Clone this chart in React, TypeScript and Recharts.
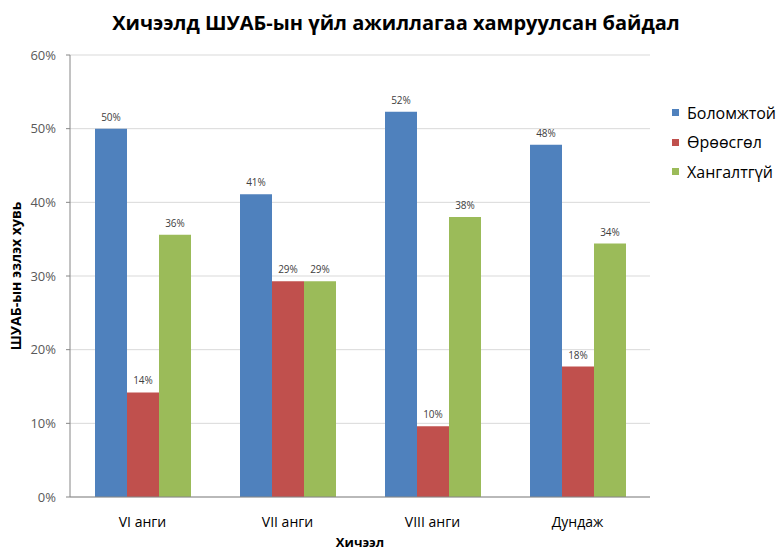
import { BarChart, Bar, XAxis, YAxis, CartesianGrid, Legend, LabelList } from 'recharts';

const FONT = '"Open Sans", "Noto Sans", sans-serif';

const CATEGORIES = ['VI анги', 'VII анги', 'VIII анги', 'Дундаж'];
const BOLOMZHTOI = [0.5, 0.411, 0.523, 0.478];
const OROOSGOL = [0.142, 0.293, 0.096, 0.177];
const KHANGALTGUI = [0.356, 0.293, 0.38, 0.344];
const Y_TICKS = [0, 0.1, 0.2, 0.3, 0.4, 0.5, 0.6];

const SERIES = [
  { key: 'bolomzhtoi', name: 'Боломжтой', color: '#4F81BD' },
  { key: 'oroosgol', name: 'Өрөөсгөл', color: '#C0504D' },
  { key: 'khangaltgui', name: 'Хангалтгүй', color: '#9BBB59' },
];

const data = CATEGORIES.map((name, i) => ({
  name,
  bolomzhtoi: BOLOMZHTOI[i],
  oroosgol: OROOSGOL[i],
  khangaltgui: KHANGALTGUI[i],
}));

const pct = (v: any) => `${Math.round(Number(v) * 100)}%`;

function LegendBox() {
  return (
    <div style={{ fontFamily: FONT, fontSize: 16, color: '#000' }}>
      {SERIES.map(s => (
        <div key={s.key} style={{ display: 'flex', alignItems: 'center', height: 29.5 }}>
          <span style={{ width: 7, height: 7, background: s.color, marginRight: 8, display: 'inline-block' }} />
          <span>{s.name}</span>
        </div>
      ))}
    </div>
  );
}

export default function App() {
  return (
    <div style={{ position: 'absolute', left: 0, top: 0, width: 784, height: 552, background: '#fff' }}>
      <div
        style={{
          position: 'absolute', left: 0, top: 9, width: 784, textAlign: 'center',
          fontFamily: FONT, fontWeight: 700, fontSize: 20, color: '#000', paddingLeft: 4,
        }}
      >
        Хичээлд ШУАБ-ын үйл ажиллагаа хамруулсан байдал
      </div>
      <BarChart
        width={784}
        height={552}
        data={data}
        margin={{ top: 55, right: 22, bottom: 0, left: 0 }}
        barGap={0}
        barSize={32}
      >
        <CartesianGrid vertical={false} stroke="#D9D9D9" />
        <XAxis
          dataKey="name"
          height={55}
          axisLine={{ stroke: '#868686' }}
          tickLine={false}
          tickMargin={14}
          tick={{ fontSize: 14, fill: '#000', fontFamily: FONT }}
          label={{ value: 'Хичээл', position: 'insideBottom', offset: 5, fontSize: 13, fontWeight: 700, fill: '#000', fontFamily: FONT }}
        />
        <YAxis
          width={70}
          domain={[0, 0.6]}
          ticks={Y_TICKS}
          tickFormatter={pct}
          axisLine={{ stroke: '#868686' }}
          tickLine={{ stroke: '#868686' }}
          tickSize={4}
          tickMargin={10}
          tick={{ fontSize: 13, fill: '#595959', fontFamily: FONT }}
          label={{ value: 'ШУАБ-ын эзлэх хувь', angle: -90, position: 'insideLeft', offset: 16, fontSize: 14, fontWeight: 700, fill: '#000', fontFamily: FONT, style: { textAnchor: 'middle' } }}
        />
        <Legend
          layout="vertical"
          align="right"
          verticalAlign="top"
          content={<LegendBox />}
          wrapperStyle={{ position: 'absolute', left: 672, top: 98, width: 112 }}
        />
        {SERIES.map(s => (
          <Bar key={s.key} dataKey={s.key} name={s.name} fill={s.color} isAnimationActive={false}>
            <LabelList dataKey={s.key} position="top" offset={8} formatter={pct} fontSize={10} fill="#404040" fontFamily={FONT} />
          </Bar>
        ))}
      </BarChart>
    </div>
  );
}
